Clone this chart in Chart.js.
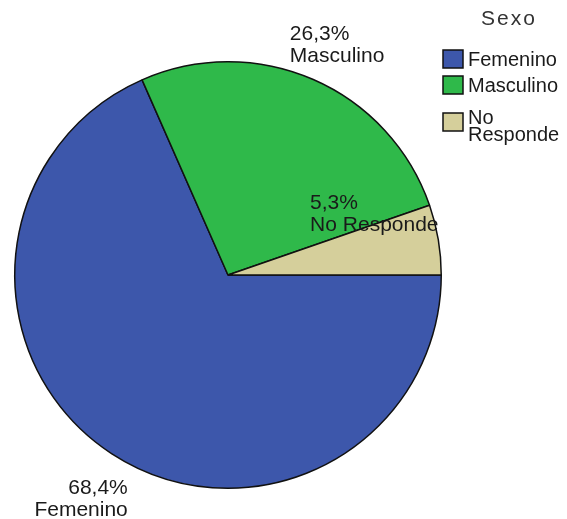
<!DOCTYPE html>
<html>
<head>
<meta charset="utf-8">
<script src="https://cdn.jsdelivr.net/npm/chart.js@4"></script>
<style>
  html, body { margin: 0; padding: 0; background: #fff; }
  #wrap { width: 567px; height: 519px; }
</style>
</head>
<body>
<div id="wrap"><canvas id="pieChart" width="567" height="519"></canvas></div>
<script>
const categories = ["Femenino", "Masculino", "No Responde"];
const percents = [68.4, 26.3, 5.3];
const sliceColors = ["#3d57ab", "#2fb94a", "#d5cf9b"];
const legendTitle = "Sexo";

const FONT = '20px "Liberation Sans", Arial, sans-serif';
const LABEL_FONT = '21px "Liberation Sans", Arial, sans-serif';

// where each slice label sits, relative to the pie centre in units of radius
const labelPlace = [
  { dx: -0.47, dy: 0.95, align: "right" },
  { dx: 0.29, dy: -1.18, align: "left" },
  { dx: 0.385, dy: -0.385, align: "left" }
];

function fmt(v) {
  return v.toFixed(1).replace('.', ',') + '%';
}

const sliceLabels = {
  id: 'sliceLabels',
  afterDatasetsDraw(chart) {
    const ctx = chart.ctx;
    const arcs = chart.getDatasetMeta(0).data;
    ctx.save();
    ctx.font = LABEL_FONT;
    ctx.fillStyle = '#1a1a1a';
    ctx.textBaseline = 'top';
    arcs.forEach((arc, i) => {
      const p = labelPlace[i];
      const r = arc.outerRadius;
      const x = arc.x + p.dx * r;
      const y = arc.y + p.dy * r;
      ctx.textAlign = p.align;
      ctx.fillText(fmt(percents[i]), x, y);
      ctx.fillText(categories[i], x, y + 22);
    });
    ctx.restore();
  }
};

const sideLegend = {
  id: 'sideLegend',
  afterDraw(chart) {
    const ctx = chart.ctx;
    ctx.save();
    ctx.fillStyle = '#333';
    ctx.font = '21px "Liberation Sans", Arial, sans-serif';
    ctx.textAlign = 'center';
    ctx.textBaseline = 'top';
    ctx.letterSpacing = '2px';
    ctx.fillText(legendTitle, 509, 9);
    ctx.letterSpacing = '0px';

    const rowsTop = [50, 76, 113];
    ctx.font = FONT;
    ctx.textAlign = 'left';
    ctx.textBaseline = 'middle';
    categories.forEach((name, i) => {
      const top = rowsTop[i];
      ctx.fillStyle = sliceColors[i];
      ctx.fillRect(443, top, 20, 18);
      ctx.strokeStyle = '#111';
      ctx.lineWidth = 1.5;
      ctx.strokeRect(443, top, 20, 18);
      ctx.fillStyle = '#1a1a1a';
      const words = name.split(' ');
      if (words.length > 1) {
        ctx.fillText(words[0], 468, top + 5);
        ctx.fillText(words.slice(1).join(' '), 468, top + 22);
      } else {
        ctx.fillText(name, 468, top + 10);
      }
    });
    ctx.restore();
  }
};

new Chart(document.getElementById('pieChart'), {
  type: 'pie',
  data: {
    labels: categories,
    datasets: [{
      data: percents,
      backgroundColor: sliceColors,
      borderColor: '#111',
      borderWidth: 1.5,
      hoverOffset: 0
    }]
  },
  options: {
    responsive: false,
    animation: false,
    rotation: 90,
    layout: { padding: { left: 14, top: 61, right: 125, bottom: 30 } },
    plugins: {
      legend: { display: false },
      tooltip: { enabled: false }
    }
  },
  plugins: [sliceLabels, sideLegend]
});
</script>
</body>
</html>
